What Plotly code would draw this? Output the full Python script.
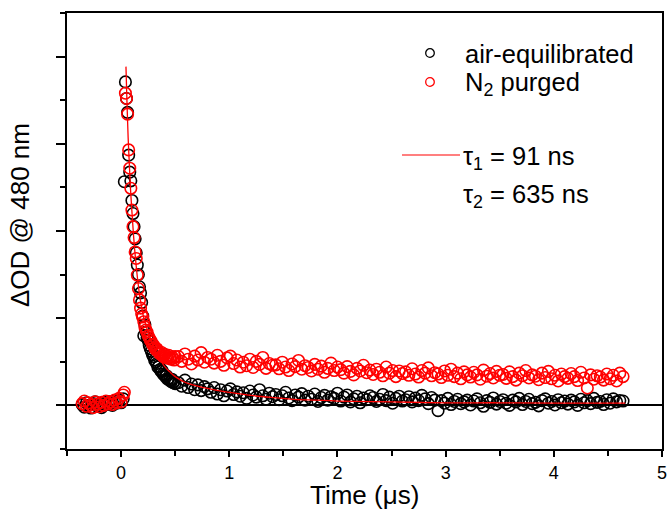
import numpy as np
import plotly.graph_objects as go

# ---------------- data ----------------
# sampling: pre-trigger every 0.02 us from -0.36, decay every 0.01 us from 0.03,
# tail every 0.03 us from 0.53
pre_start, pre_step = -0.36, 0.02
dec_start, dec_step = 0.03, 0.01
tail_start, tail_step = 0.53, 0.03

air_pre = [0.0002, -0.0004, 0.0006, 0.0000, -0.0006, 0.0004, 0.0008, -0.0002, 0.0003, -0.0005,
           0.0006, 0.0002, 0.0009, 0.0004, 0.0000, 0.0010, 0.0005, 0.0012, 0.0006, 0.0015]
n2_pre = [0.0004, 0.0010, -0.0002, 0.0006, 0.0001, -0.0005, 0.0008, 0.0003, -0.0003, 0.0007,
          0.0000, 0.0010, 0.0004, 0.0008, 0.0002, 0.0012, 0.0006, 0.0016, 0.0008, 0.0024]

air_decay = [0.0513, 0.0742, 0.0704, 0.0672, 0.0574, 0.0535, 0.0515, 0.0470, 0.0440, 0.0410,
             0.0382, 0.0350, 0.0322, 0.0300, 0.0272, 0.0258, 0.0236, 0.0205, 0.0160, 0.0185,
             0.0168, 0.0155, 0.0150, 0.0138, 0.0130, 0.0124, 0.0116, 0.0112, 0.0104, 0.0100,
             0.0096, 0.0088, 0.0090, 0.0082, 0.0078, 0.0080, 0.0072, 0.0070, 0.0066, 0.0068,
             0.0060, 0.0062, 0.0058, 0.0055, 0.0060, 0.0052, 0.0054, 0.0050]
n2_decay = [0.0030, 0.0716, 0.0704, 0.0668, 0.0586, 0.0544, 0.0498, 0.0448, 0.0410, 0.0385,
            0.0352, 0.0337, 0.0299, 0.0268, 0.0242, 0.0223, 0.0210, 0.0203, 0.0192, 0.0180,
            0.0173, 0.0168, 0.0160, 0.0155, 0.0150, 0.0146, 0.0140, 0.0138, 0.0132, 0.0128,
            0.0130, 0.0124, 0.0121, 0.0118, 0.0122, 0.0115, 0.0112, 0.0118, 0.0110, 0.0113,
            0.0108, 0.0115, 0.0110, 0.0106, 0.0112, 0.0108, 0.0104, 0.0112]

air_tail = [
    0.0052, 0.0044, 0.0058, 0.0041, 0.0049, 0.0036, 0.0047, 0.0034, 0.0043, 0.0038,
    0.0030, 0.0041, 0.0026, 0.0036, 0.0022, 0.0033, 0.0038, 0.0025, 0.0031, 0.0021,
    0.0029, 0.0016, 0.0033, 0.0024, 0.0019, 0.0036, 0.0022, 0.0014, 0.0028, 0.0020,
    0.0025, 0.0013, 0.0022, 0.0030, 0.0017, 0.0011, 0.0024, 0.0019, 0.0027, 0.0012,
    0.0021, 0.0014, 0.0026, 0.0009, 0.0018, 0.0023, 0.0012, 0.0020, 0.0016, 0.0028,
    0.0010, 0.0019, 0.0024, 0.0008, 0.0015, 0.0021, 0.0006, 0.0017, 0.0013, 0.0022,
    0.0018, 0.0009, 0.0014, 0.0025, 0.0011, 0.0019, 0.0005, 0.0016, 0.0021, 0.0010,
    0.0013, 0.0020, 0.0008, 0.0017, 0.0011, 0.0023, 0.0015, 0.0004, 0.0018, 0.0012,
    -0.0012, 0.0011, 0.0005, 0.0016, 0.0002, 0.0009, 0.0014, 0.0004, 0.0008, 0.0012,
    0.0001, 0.0010, 0.0015, 0.0006, -0.0002, 0.0011, 0.0007, 0.0017, 0.0003, 0.0009,
    0.0013, 0.0005, 0.0000, 0.0012, 0.0008, 0.0016, 0.0002, 0.0009, 0.0014, 0.0004,
    0.0007, -0.0001, 0.0011, 0.0015, 0.0005, 0.0009, 0.0001, 0.0013, 0.0006, 0.0010,
    0.0003, 0.0012, 0.0008, 0.0000, 0.0014, 0.0006, 0.0011, 0.0004, 0.0016, 0.0007,
    0.0009, 0.0002, 0.0013, 0.0005, 0.0015, 0.0008, 0.0011, 0.0010]
n2_tail = [
    0.0112, 0.0101, 0.0118, 0.0106, 0.0095, 0.0113, 0.0104, 0.0121, 0.0099, 0.0110,
    0.0106, 0.0097, 0.0115, 0.0101, 0.0092, 0.0109, 0.0113, 0.0096, 0.0104, 0.0088,
    0.0099, 0.0091, 0.0106, 0.0087, 0.0101, 0.0094, 0.0110, 0.0085, 0.0096, 0.0092,
    0.0093, 0.0084, 0.0099, 0.0088, 0.0080, 0.0095, 0.0089, 0.0103, 0.0083, 0.0091,
    0.0087, 0.0079, 0.0094, 0.0083, 0.0090, 0.0076, 0.0085, 0.0097, 0.0080, 0.0088,
    0.0082, 0.0074, 0.0089, 0.0078, 0.0070, 0.0085, 0.0079, 0.0092, 0.0075, 0.0081,
    0.0071, 0.0083, 0.0076, 0.0068, 0.0088, 0.0074, 0.0080, 0.0066, 0.0079, 0.0073,
    0.0077, 0.0069, 0.0084, 0.0072, 0.0065, 0.0080, 0.0074, 0.0086, 0.0068, 0.0075,
    0.0072, 0.0064, 0.0079, 0.0069, 0.0083, 0.0066, 0.0074, 0.0061, 0.0077, 0.0070,
    0.0065, 0.0076, 0.0070, 0.0060, 0.0081, 0.0067, 0.0073, 0.0063, 0.0078, 0.0069,
    0.0071, 0.0062, 0.0077, 0.0066, 0.0058, 0.0074, 0.0068, 0.0080, 0.0063, 0.0070,
    0.0067, 0.0059, 0.0074, 0.0064, 0.0078, 0.0061, 0.0069, 0.0056, 0.0072, 0.0066,
    0.0062, 0.0073, 0.0066, 0.0057, 0.0076, 0.0063, 0.0040, 0.0070, 0.0060, 0.0068,
    0.0065, 0.0058, 0.0072, 0.0061, 0.0069, 0.0056, 0.0074, 0.0066]

# biexponential fit curve (tau1 = 91 ns, tau2 = 635 ns)
fit_t = [0.045, 0.055, 0.065, 0.075, 0.085, 0.10, 0.115, 0.13, 0.15, 0.17, 0.19, 0.21,
         0.23, 0.26, 0.30, 0.35, 0.40, 0.45, 0.50, 0.60, 0.70, 0.80, 0.90, 1.00, 1.20,
         1.40, 1.60, 1.80, 2.00, 2.50, 3.00, 3.50, 4.00, 4.66]
fit_y = [0.0777, 0.0690, 0.0615, 0.0560, 0.0505, 0.0445, 0.0390, 0.0345, 0.0295, 0.0255,
         0.0225, 0.0200, 0.0183, 0.0160, 0.0135, 0.0110, 0.0090, 0.0077, 0.0066, 0.0052,
         0.0045, 0.0039, 0.0034, 0.0030, 0.0023, 0.0018, 0.0014, 0.0012, 0.0010, 0.0008,
         0.0006, 0.0006, 0.0005, 0.0005]

x_ticks = [0, 1, 2, 3, 4, 5]

def grid(start, step, n):
    return list(np.round(start + step * np.arange(n), 3))

t_all = (grid(pre_start, pre_step, len(air_pre)) + grid(dec_start, dec_step, len(air_decay))
         + grid(tail_start, tail_step, len(air_tail)))
air = air_pre + air_decay + air_tail
n2 = n2_pre + n2_decay + n2_tail

# ---------------- figure ----------------
FONT = "Arial, Liberation Sans, sans-serif"
W, H = 667, 523
L, R, T, B = 67, 5, 13, 74
pw, ph = W - L - R, H - T - B

def px(x):
    return (x - L) / pw

def py(y):
    return (H - B - y) / ph

fig = go.Figure()
mk = dict(symbol="circle-open", size=11.5)
fig.add_trace(go.Scatter(x=t_all, y=air, mode="markers", name="air-equilibrated",
                         marker=dict(**mk, color="black", line=dict(width=1.6, color="black"))))
fig.add_trace(go.Scatter(x=t_all, y=n2, mode="markers", name="N2 purged",
                         marker=dict(**mk, color="#ff0000", line=dict(width=1.6, color="#ff0000"))))
fig.add_trace(go.Scatter(x=fit_t, y=fit_y, mode="lines", name="fit",
                         line=dict(color="#ff0000", width=1.3, shape="spline")))

axis_common = dict(showline=True, linecolor="black", linewidth=2, mirror=True,
                   showgrid=False, ticks="outside", tickcolor="black", tickwidth=1.5,
                   automargin=False)
fig.update_xaxes(range=[-0.5, 5], tickvals=x_ticks, ticklen=6, ticklabeloverflow="allow",
                 tickfont=dict(family=FONT, size=18, color="black"),
                 minor=dict(dtick=0.5, tick0=0, ticks="outside", ticklen=5, tickwidth=1.5,
                            tickcolor="black"),
                 zeroline=False, **axis_common)
fig.update_yaxes(range=[-0.01, 0.09], dtick=0.02, tick0=0, ticklen=9, showticklabels=False,
                 minor=dict(dtick=0.01, tick0=0, ticks="outside", ticklen=5, tickwidth=1.5,
                            tickcolor="black"),
                 zeroline=True, zerolinecolor="black", zerolinewidth=1.5, **axis_common)

# legend drawn by hand to match the layout of the original
shapes = []
for yy, col in [(53, "black"), (82, "#ff0000")]:
    r = 4.3
    shapes.append(dict(type="circle", xref="paper", yref="paper",
                       x0=px(430 - r), x1=px(430 + r), y0=py(yy + r), y1=py(yy - r),
                       line=dict(color=col, width=1.3)))
shapes.append(dict(type="line", xref="paper", yref="paper", x0=px(402), x1=px(460),
                   y0=py(155), y1=py(155), line=dict(color="#ff0000", width=1.2)))

ann = []
def text(x, y, s, size=25.5, **kw):
    ann.append(dict(x=px(x), y=py(y), xref="paper", yref="paper", text=s, showarrow=False,
                    xanchor=kw.pop("xanchor", "left"), yanchor="middle",
                    font=dict(family=FONT, size=size, color="black"), **kw))

text(463, 54, "air-equilibrated")
text(463, 84, "N<sub>2</sub> purged")
text(461, 158, "τ<sub>1</sub> = 91 ns")
text(461, 196, "τ<sub>2</sub> = 635 ns")
text(364, 495, "Time (μs)", size=26, xanchor="center")
text(20, 215, "ΔOD @ 480 nm", size=26, xanchor="center", textangle=-90)

fig.update_layout(width=W, height=H, margin=dict(l=L, r=R, t=T, b=B),
                  paper_bgcolor="white", plot_bgcolor="white", showlegend=False,
                  shapes=shapes, annotations=ann)

fig.write_html("out.html", config={"displayModeBar": False},
               post_script="document.body.style.margin='0px';document.body.style.overflow='hidden';")
